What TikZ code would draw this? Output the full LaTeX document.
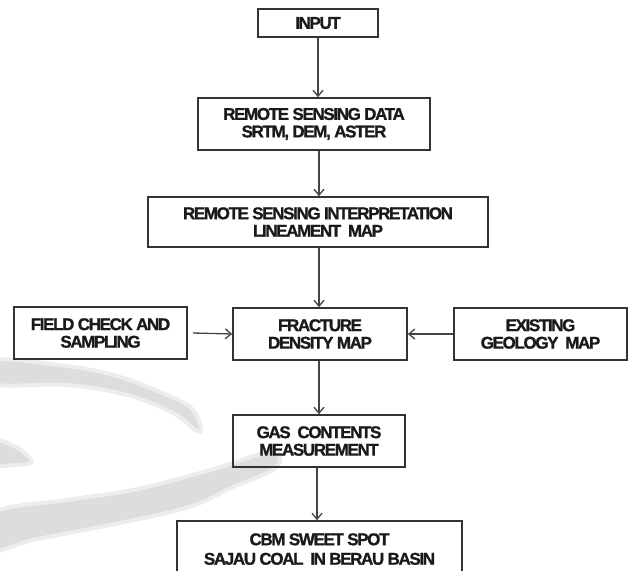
\documentclass[tikz,border=0pt]{standalone}
\usepackage{fontspec}
\setmainfont{Liberation Sans}[LetterSpace=-8, BoldFeatures={FakeBold=1.2}]
\usetikzlibrary{arrows.meta}
\definecolor{boxc}{HTML}{333333}
\definecolor{arrc}{HTML}{454545}
\definecolor{txt}{HTML}{1A1A1A}
\definecolor{wm}{HTML}{DDDDDD}
\definecolor{wmhalo}{HTML}{EDEDED}
\tikzset{
  box/.style={draw=boxc, line width=1.6pt, minimum height=52pt, inner sep=0pt,
    align=center, text=txt, font=\bfseries\fontsize{17}{17.5}\selectfont},
  arr/.style={draw=arrc, line width=1.3pt, -{Straight Barb[length=6pt,width=10pt]}},
  wmark/.style={fill=wm, draw=wmhalo, line width=4pt, line join=round}
}
\begin{document}
\begin{tikzpicture}[x=1pt,y=-1pt]
\useasboundingbox (0,0) rectangle (630,571);
% watermark swooshes
\path[wmark] plot[smooth cycle, tension=0.6] coordinates {(-8,360) (67,366) (117,376) (160,392) (190,407) (201,427) (197,431) (173,413) (127,395) (67,385) (-8,384)};
\path[wmark] plot[smooth cycle, tension=0.6] coordinates {(-8,440) (14,446) (28,456) (31,463) (16,465) (-8,464)};
\path[wmark] plot[smooth cycle, tension=0.6] coordinates {(-8,513) (67,500) (133,490) (200,473) (233,463) (265,453) (280,456) (273,470) (233,487) (200,503) (167,513) (100,527) (33,540) (-8,550)};
% boxes
\node[box, minimum width=120pt, minimum height=28pt] (inp) at (318,23) {INPUT};
\node[box, minimum width=232pt] (rsd) at (314,124) {REMOTE SENSING DATA\\SRTM, DEM, ASTER};
\node[box, minimum width=340pt, minimum height=50pt] (rsi) at (318,222) {REMOTE SENSING INTERPRETATION\\LINEAMENT\ \ MAP};
\node[box, minimum width=173pt] (field) at (100.5,333) {FIELD CHECK AND\\SAMPLING};
\node[box, minimum width=174pt] (frac) at (320,334) {FRACTURE\\DENSITY MAP};
\node[box, minimum width=173pt] (geo) at (540.5,334) {EXISTING\\GEOLOGY\ \ MAP};
\node[box, minimum width=172pt] (gas) at (319,441) {GAS\ \ CONTENTS\\MEASUREMENT};
\node[box, minimum width=285pt, minimum height=56pt, text depth=0pt] (cbm) at (319.5,549) {\raisebox{2pt}{CBM SWEET SPOT}\\SAJAU COAL\ \ IN BERAU BASIN};
% connectors
\draw[arr] (inp.south) -- (inp.south |- rsd.north);
\draw[arr] (319,0 |- rsd.south) -- (319,0 |- rsi.north);
\draw[arr] (319,0 |- rsi.south) -- (319,0 |- frac.north);
\draw[arr] ([xshift=5pt]field.east) -- (frac.west);
\draw[arr] (geo.west) -- (frac.east);
\draw[arr] (319,0 |- frac.south) -- (319,0 |- gas.north);
\draw[arr] (317,0 |- gas.south) -- (317,0 |- cbm.north);
\end{tikzpicture}
\end{document}
